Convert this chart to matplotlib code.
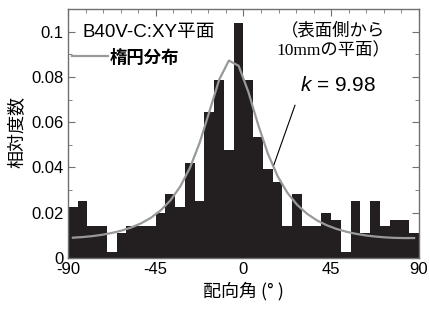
import numpy as np
import matplotlib
matplotlib.use('Agg')
from matplotlib import pyplot as plt
from matplotlib.ticker import MultipleLocator

plt.rcParams['font.family'] = ['Liberation Sans', 'Noto Sans CJK JP', 'DejaVu Sans']
plt.rcParams['axes.unicode_minus'] = False
plt.rcParams['mathtext.fontset'] = 'custom'
plt.rcParams['mathtext.it'] = 'Liberation Sans:italic'
plt.rcParams['mathtext.rm'] = 'Liberation Sans'

# histogram counts per 5 deg bin, -90 .. 90
bin_left = np.arange(-90, 90, 5)
counts = np.array([8, 9, 5, 5, 1, 4, 5, 5, 5, 7, 10, 8, 15, 9, 23, 28, 17, 37,
                   28, 19, 14, 12, 5, 10, 5, 5, 7, 6, 1, 9, 4, 9, 5, 6, 6, 4])
rel_freq = counts / counts.sum()

# elliptical distribution curve, read at bin centres
curve_x = bin_left + 2.5
curve_y = [0.00897, 0.00925, 0.00967, 0.01026, 0.01106, 0.01211, 0.01350,
           0.01533, 0.01775, 0.02101, 0.02542, 0.03148, 0.03978, 0.05089,
           0.06467, 0.07870, 0.08722, 0.08491, 0.07336, 0.05892, 0.04609,
           0.03615, 0.02882, 0.02349, 0.01959, 0.01670, 0.01454, 0.01290,
           0.01166, 0.01071, 0.01000, 0.00948, 0.00912, 0.00890, 0.00880,
           0.00882]

xticks = [-90, -45, 0, 45, 90]
yticks = [0, 0.02, 0.04, 0.06, 0.08, 0.1]
ytick_labels = ['0', '0.02', '0.04', '0.06', '0.08', '0.1']

fig = plt.figure(figsize=(4.31, 3.13), dpi=100)
ax = fig.add_axes([68/431, 1-258/313, 351/431, 249/313])

ax.bar(bin_left, rel_freq, width=5, align='edge', color='#231f20', linewidth=0, zorder=2)
line, = ax.plot(curve_x, curve_y, color='#999999', lw=1.6, zorder=3, label='楕円分布')

ax.set_xlim(-90, 90)
ax.set_ylim(0, 0.11)
ax.set_xticks(xticks)
ax.set_xticklabels([str(t) for t in xticks])
ax.set_yticks(yticks)
ax.set_yticklabels(ytick_labels)
ax.xaxis.set_minor_locator(MultipleLocator(9))
ax.yaxis.set_minor_locator(MultipleLocator(0.01))
ax.tick_params(which='both', direction='in', top=True, right=True,
               color='#707070', labelsize=12, zorder=4)
ax.tick_params(which='major', length=5, pad=3)
ax.tick_params(which='minor', length=3)
for s in ax.spines.values():
    s.set_color('#707070')
    s.set_linewidth(1)
    s.set_zorder(4)

ax.set_xlabel('配向角 (° )', fontsize=13, family=['Noto Sans CJK JP'])
ax.xaxis.set_label_coords(0.5, -0.095)
ax.set_ylabel('相対度数', fontsize=13, family=['Noto Sans CJK JP'])
ax.yaxis.set_label_coords(-0.12, 0.505)

leg = ax.legend(handles=[line], loc='center left', bbox_to_anchor=(0.011, 0.805),
                frameon=False, borderpad=0, borderaxespad=0, handlelength=2.1,
                handletextpad=0.1, prop={'family': ['Noto Sans CJK JP'], 'weight': 'bold', 'size': 12.5})

ax.text(-82.8, 0.0996, 'B40V-C:XY平面', fontsize=13.5, ha='left', va='center', zorder=5)
ax.text(46, 0.1004, '（表面側から', fontsize=12.5, ha='center', va='center',
        family=['Noto Sans CJK JP'])
ax.text(46, 0.0916, '10mmの平面）', fontsize=12.5, ha='center', va='center',
        family=['Liberation Serif', 'Noto Sans CJK JP'])
ax.text(48.5, 0.0762, '$k$ = 9.98', fontsize=15, ha='center', va='center')
ax.annotate('', xy=(15.1, 0.040), xytext=(26.9, 0.0687),
            arrowprops=dict(arrowstyle='-', color='black', lw=0.8))

fig.savefig('out.png', dpi=100)
